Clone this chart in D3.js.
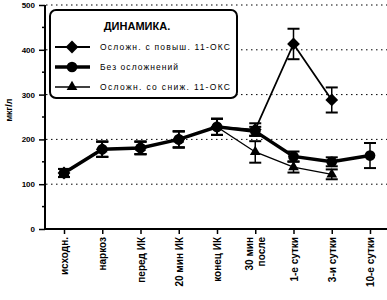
<!DOCTYPE html>
<html><head><meta charset="utf-8">
<script src="https://cdn.jsdelivr.net/npm/d3@7"></script>
<style>body{margin:0;background:#fff}svg{display:block}text{font-family:"Liberation Sans",Arial,sans-serif}</style>
</head><body><svg id="c" width="387" height="300"></svg>
<script>
const categories = ["исходн.","наркоз","перед ИК","20 мин ИК","конец ИК","30 мин|после","1-е сутки","3-и сутки","10-е сутки"];
const yTicks = [0,100,200,300,400,500];
// series: "Осложн. с повыш. 11-ОКС"
const upVals = [125,178,181,200,228,222,413,288,null];
const upErr  = [9,17,14,18,18,14,34,28,null];
// series: "Без осложнений"
const noVals = [125,178,181,200,228,218,162,150,164];
const noErr  = [9,17,14,18,18,10,11,10,28];
// series: "Осложн. со сниж. 11-ОКС"
const downVals = [125,178,181,200,228,172,138,122,null];
const downErr  = [9,17,14,18,18,24,12,11,null];
const legendTitle = "ДИНАМИКА.";
const legendNames = ["Осложн. с повыш. 11-ОКС","Без осложнений","Осложн. со сниж. 11-ОКС"];
const yLabel = "мкг/л";

const svg = d3.select("#c");
const x = d3.scalePoint().domain(categories).range([64,370]);
const y = d3.scaleLinear().domain([0,500]).range([229,5]);

// gridlines
svg.append("g").selectAll("line").data(yTicks.slice(1)).join("line")
  .attr("x1",46).attr("x2",387).attr("y1",d=>y(d)).attr("y2",d=>y(d))
  .attr("stroke","#000").attr("stroke-width",1).attr("stroke-dasharray","1.5,3.5");

// y axis
const ya = svg.append("g").attr("transform","translate(45,0)")
  .call(d3.axisLeft(y).tickValues(yTicks).tickSize(6).tickPadding(4));
ya.select(".domain").attr("stroke-width",2).attr("d","M0,"+y(500)+"V"+y(0));
ya.selectAll("text").attr("font-size",8).attr("font-weight","bold").attr("fill","#000");
ya.selectAll("line").attr("stroke-width",1.5);
// minor ticks
svg.append("g").selectAll("line").data([50,150,250,350,450]).join("line")
  .attr("x1",42).attr("x2",45).attr("y1",d=>y(d)).attr("y2",d=>y(d)).attr("stroke","#000").attr("stroke-width",1.5);

// x axis
const xa = svg.append("g").attr("transform","translate(0,229)")
  .call(d3.axisBottom(x).tickSize(5).tickFormat(""));
xa.select(".domain").attr("d","M45,0H387").attr("stroke-width",2);
xa.selectAll("line").attr("stroke-width",1.5);
categories.forEach(c=>{
  const parts = c.split("|");
  parts.forEach((p,i)=>{
    const off = (i-(parts.length-1)/2)*12;
    svg.append("text").attr("transform",`translate(${x(c)+4+off},237) rotate(-90)`)
      .attr("text-anchor","end").attr("font-size",10).attr("font-weight","bold").text(p);
  });
});

// y label
svg.append("text").attr("transform","translate(12,110) rotate(-90)").attr("text-anchor","middle")
  .attr("font-size",9).attr("font-weight","bold").text(yLabel);

function drawSeries(vals, errs, sw, shape, size){
  const pts = vals.map((v,i)=>({c:categories[i],v,e:errs[i]})).filter(d=>d.v!=null);
  const g = svg.append("g");
  g.append("path").datum(pts).attr("fill","none").attr("stroke","#000").attr("stroke-width",sw)
    .attr("d",d3.line().x(d=>x(d.c)).y(d=>y(d.v)));
  pts.forEach(d=>{
    const cx=x(d.c);
    g.append("line").attr("x1",cx).attr("x2",cx).attr("y1",y(d.v+d.e)).attr("y2",y(d.v-d.e)).attr("stroke","#000").attr("stroke-width",1.5);
    [d.v+d.e,d.v-d.e].forEach(t=>g.append("line").attr("x1",cx-6).attr("x2",cx+6).attr("y1",y(t)).attr("y2",y(t)).attr("stroke","#000").attr("stroke-width",2));
  });
  g.selectAll(".m").data(pts).join("path").attr("fill","#000")
    .attr("transform",d=>`translate(${x(d.c)},${y(d.v)})`)
    .attr("d",d3.symbol().type(shape).size(size));
}
const diamond = {draw(ctx,size){const r=Math.sqrt(size)/1.4;ctx.moveTo(0,-r);ctx.lineTo(r,0);ctx.lineTo(0,r);ctx.lineTo(-r,0);ctx.closePath();}};
drawSeries(downVals,downErr,1.3,d3.symbolTriangle,50);
drawSeries(upVals,upErr,1.8,diamond,80);
drawSeries(noVals,noErr,3.5,d3.symbolCircle,90);

// legend
const lg = svg.append("g");
lg.append("rect").attr("x",50).attr("y",10).attr("width",187).attr("height",88).attr("rx",6)
  .attr("fill","#fff").attr("stroke","#000").attr("stroke-width",2);
lg.append("text").attr("x",137).attr("y",30).attr("text-anchor","middle").attr("font-size",11).attr("font-weight","bold").text(legendTitle);
const lgSpec=[{sw:1.8,shape:diamond,size:80},{sw:3.5,shape:d3.symbolCircle,size:90},{sw:1.3,shape:d3.symbolTriangle,size:50}];
const rows=[47,67,87];
const lens=[130,78,130];
legendNames.forEach((n,i)=>{
  lg.append("line").attr("x1",55).attr("x2",90).attr("y1",rows[i]).attr("y2",rows[i]).attr("stroke","#000").attr("stroke-width",lgSpec[i].sw);
  lg.append("path").attr("transform",`translate(72,${rows[i]})`).attr("d",d3.symbol().type(lgSpec[i].shape).size(lgSpec[i].size));
  lg.append("text").attr("x",100).attr("y",rows[i]+3).attr("font-size",8.5)
    .attr("textLength",lens[i]).attr("lengthAdjust","spacing").text(n);
});
</script></body></html>
